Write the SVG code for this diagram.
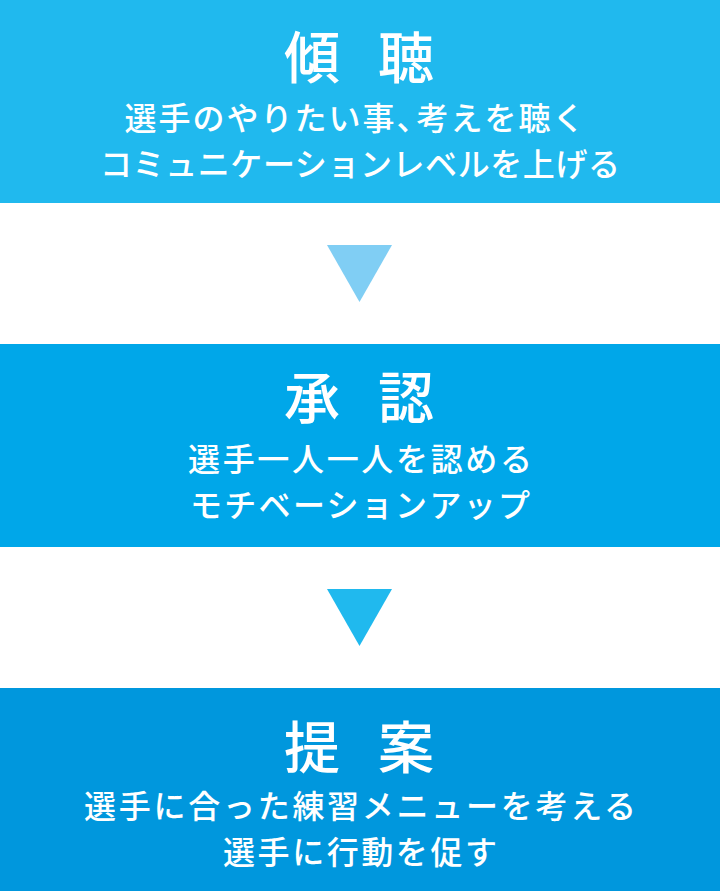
<svg xmlns="http://www.w3.org/2000/svg" width="720" height="892" viewBox="0 0 720 892">
  <style>
    .title { font-family: "Noto Sans CJK JP", "Noto Sans", sans-serif; font-size: 56px; font-weight: 500; fill: #ffffff; }
    .sub { font-family: "Noto Sans CJK JP", "Noto Sans", sans-serif; font-size: 32px; font-weight: 500; fill: #ffffff; text-anchor: middle; }
    .subl { font-family: "Noto Sans CJK JP", "Noto Sans", sans-serif; font-size: 32px; font-weight: 500; fill: #ffffff; letter-spacing: 2px; }
    .half { font-feature-settings: "halt" 1; }
  </style>
  <rect width="720" height="892" fill="#ffffff"/>
  <g id="node-keicho">
    <rect x="0" y="0" width="720" height="203" fill="#20b9ee"/>
    <text class="title" y="78"><tspan x="284">傾</tspan> <tspan x="378">聴</tspan></text>
    <text class="subl" x="124.5" y="130">選手のやりたい事<tspan class="half">、</tspan><tspan dx="2">考えを聴く</tspan></text>
    <text class="sub" x="360" y="176" textLength="520" lengthAdjust="spacing">コミュニケーションレベルを上げる</text>
  </g>
  <g id="node-shonin">
    <rect x="0" y="344" width="720" height="203" fill="#00a7e9"/>
    <text class="title" y="418"><tspan x="284">承</tspan> <tspan x="378">認</tspan></text>
    <text class="sub" x="360" y="471" textLength="344" lengthAdjust="spacing">選手一人一人を認める</text>
    <text class="sub" x="360" y="517" textLength="340" lengthAdjust="spacing">モチベーションアップ</text>
  </g>
  <g id="node-teian">
    <rect x="0" y="688" width="720" height="203" fill="#0097dd"/>
    <text class="title" y="768"><tspan x="284">提</tspan> <tspan x="378">案</tspan></text>
    <text class="sub" x="360" y="818" textLength="552" lengthAdjust="spacing">選手に合った練習メニューを考える</text>
    <text class="sub" x="360" y="864" textLength="274" lengthAdjust="spacing">選手に行動を促す</text>
  </g>
  <g id="connectors">
    <polygon points="327,245 392,245 359.5,302" fill="#80cef4"/>
    <polygon points="327,589 392,589 359.5,646" fill="#20b9ee"/>
  </g>
</svg>
